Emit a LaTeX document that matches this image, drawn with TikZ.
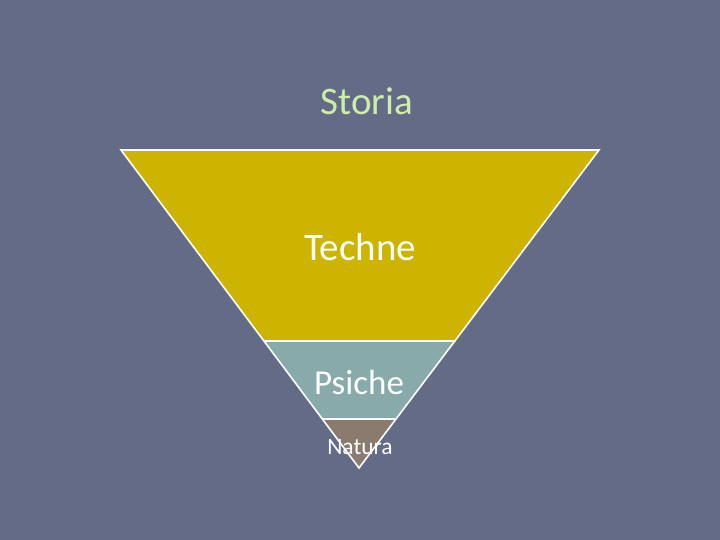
\documentclass[tikz,border=0pt]{standalone}
\usepackage{fontspec}
\setmainfont{Carlito}
\definecolor{bg}{HTML}{636B87}
\definecolor{techcol}{HTML}{CCB400}
\definecolor{psicol}{HTML}{88AAAA}
\definecolor{natcol}{HTML}{8B7A6E}
\definecolor{storiacol}{HTML}{CCEEAA}
\begin{document}
\begin{tikzpicture}[x=1pt,y=-1pt,
  band/.style={draw=white,line width=1.6pt,line join=miter},
  lbl/.style={text=white,anchor=base,inner sep=0pt}]
\fill[bg] (0,0) rectangle (720,540);
\useasboundingbox (0,0) rectangle (720,540);
\coordinate (tl) at (121,150);
\coordinate (tr) at (599,150);
\coordinate (ap) at (359,468);
\coordinate (l1) at (264.5,341);
\coordinate (r1) at (455.5,341);
\coordinate (l2) at (323,419);
\coordinate (r2) at (395,419);
\fill[techcol] (tl) -- (tr) -- (r1) -- (l1) -- cycle;
\fill[psicol] (l1) -- (r1) -- (r2) -- (l2) -- cycle;
\fill[natcol] (l2) -- (r2) -- (ap) -- cycle;
\draw[band] (l1) -- (r1);
\draw[band] (l2) -- (r2);
\draw[band] (tl) -- (tr) -- (ap) -- cycle;
\node[lbl,text=storiacol,font=\fontsize{39}{44}\selectfont] (storia) at (367,115) {Storia};
\node[lbl,font=\fontsize{39}{44}\selectfont] (techne) at (360,260) {Techne};
\node[lbl,font=\fontsize{35}{40}\selectfont] (psiche) at (359,394.5) {Psiche};
\node[lbl,font=\fontsize{23.5}{26}\selectfont] (natura) at (360,454) {Natura};
\end{tikzpicture}
\end{document}
